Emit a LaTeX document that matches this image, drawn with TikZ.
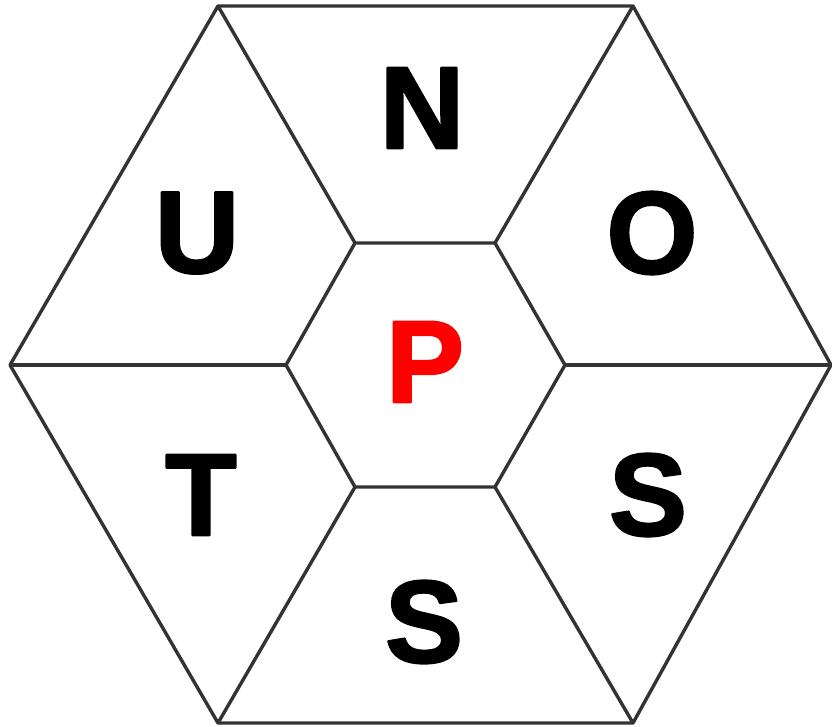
\documentclass[tikz,border=0pt]{standalone}
\usepackage{fontspec}
\newfontfamily\letterfont[FakeBold=2]{Liberation Sans Bold}
\definecolor{edge}{HTML}{333333}
\definecolor{pred}{HTML}{FF0000}
\begin{document}
\begin{tikzpicture}[x=1pt,y=-1pt,
  cell/.style={draw=edge,line width=3.4pt,line join=round},
  letter/.style={inner sep=0pt,font=\letterfont\fontsize{117}{117}\selectfont,line join=round,line cap=round}]
\useasboundingbox (0,0) rectangle (832,727);
% outer hexagon
\coordinate (o1) at (218,6);
\coordinate (o2) at (633,6);
\coordinate (o3) at (831,365);
\coordinate (o4) at (633,723);
\coordinate (o5) at (218,723);
\coordinate (o6) at (10,365);
% inner hexagon
\coordinate (i1) at (355,243);
\coordinate (i2) at (495,243);
\coordinate (i3) at (565,365);
\coordinate (i4) at (495,487);
\coordinate (i5) at (355,487);
\coordinate (i6) at (286,365);
\draw[cell] (o1) -- (o2) -- (o3) -- (o4) -- (o5) -- (o6) -- cycle;
\draw[cell] (i1) -- (i2) -- (i3) -- (i4) -- (i5) -- (i6) -- cycle;
\draw[cell] (i1) -- (o1);
\draw[cell] (i2) -- (o2);
\draw[cell] (i3) -- (o3);
\draw[cell] (i4) -- (o4);
\draw[cell] (i5) -- (o5);
\draw[cell] (i6) -- (o6);
% letters
\node[letter] (n) at (422,108) {N};
\node[letter] (u) at (197,233) {U};
\node[letter] (o) at (652,233) {O};
\node[letter,text=pred] (p) at (425,362) {P};
\node[letter] (t) at (201,495) {T};
\node[letter] (s1) at (648,495) {S};
\node[letter] (s2) at (424,622) {S};
\end{tikzpicture}
\end{document}
